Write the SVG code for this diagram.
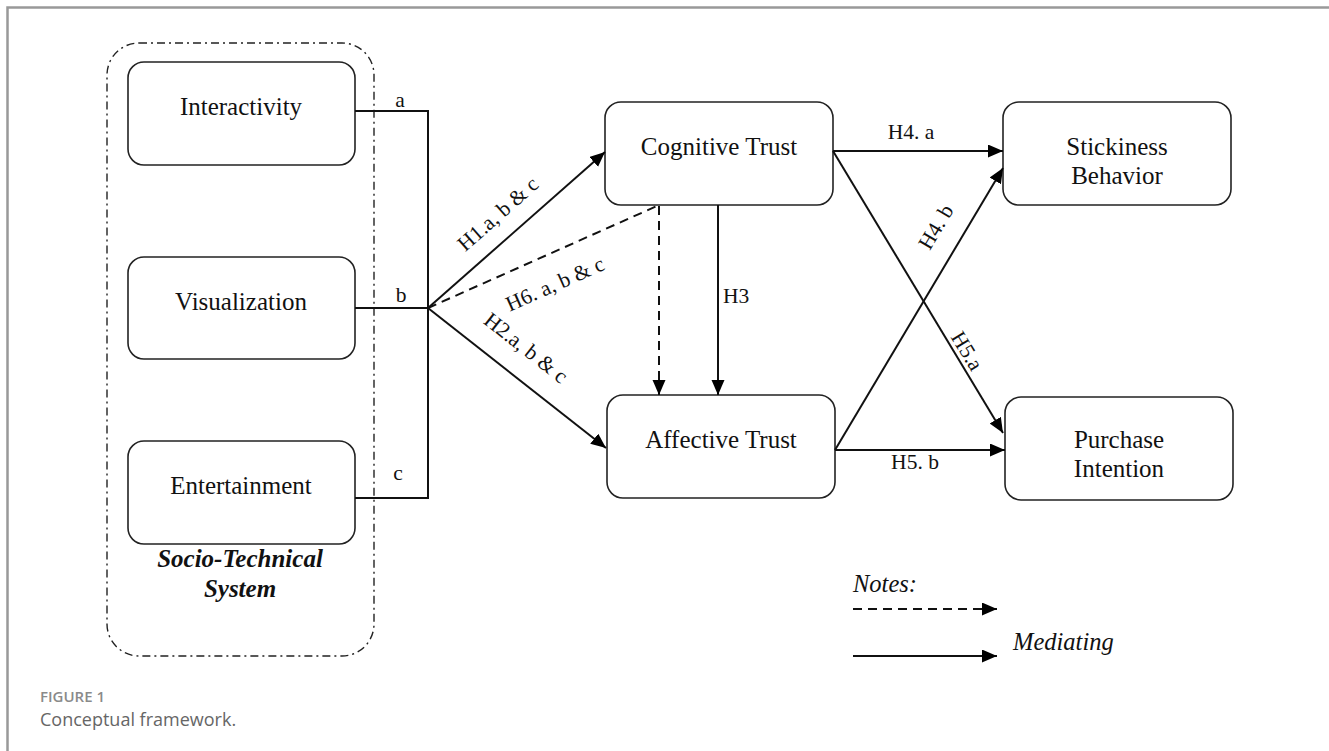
<svg xmlns="http://www.w3.org/2000/svg" width="1329" height="751" viewBox="0 0 1329 751">
<defs>
<marker id="ah" markerUnits="userSpaceOnUse" markerWidth="16" markerHeight="14" refX="15" refY="6.5" orient="auto">
<path d="M0,0 L15,6.5 L0,13 z" fill="#000"/>
</marker>
<style>
.box{fill:#fff;stroke:#222;stroke-width:1.6}
.t{font-family:"Liberation Serif","Times New Roman",serif;font-size:25px;fill:#111;text-anchor:middle}
.lb{font-family:"Liberation Serif","Times New Roman",serif;font-size:21.5px;fill:#111}
.lg{font-family:"Liberation Serif","Times New Roman",serif;font-size:24.5px;font-style:italic;fill:#111}
.c{stroke:#111;stroke-width:2;fill:none}
.d{stroke:#111;stroke-width:2;fill:none;stroke-dasharray:9 6}
</style>
</defs>
<rect width="1329" height="751" fill="#fff"/>
<path d="M1329,7.5 H7.5 V751" fill="none" stroke="#999" stroke-width="2.5"/>

<g id="socio-technical-system">
<rect x="107" y="43" width="267" height="613" rx="32" fill="none" stroke="#222" stroke-width="1.4" stroke-dasharray="8 4 2 4"/>
<text class="t" x="240" y="567" font-weight="bold" font-style="italic">Socio-Technical</text>
<text class="t" x="240" y="597" font-weight="bold" font-style="italic">System</text>
</g>

<g id="interactivity">
<rect class="box" x="128" y="62" width="227" height="103" rx="16"/>
<text class="t" x="241" y="115">Interactivity</text>
</g>
<g id="visualization">
<rect class="box" x="128" y="257" width="227" height="102" rx="16"/>
<text class="t" x="241" y="310">Visualization</text>
</g>
<g id="entertainment">
<rect class="box" x="128" y="441" width="227" height="103" rx="16"/>
<text class="t" x="241" y="494">Entertainment</text>
</g>

<g id="cognitive-trust">
<rect class="box" x="605" y="102" width="228" height="103" rx="16"/>
<text class="t" x="719" y="155">Cognitive Trust</text>
</g>
<g id="affective-trust">
<rect class="box" x="607" y="395" width="228" height="103" rx="16"/>
<text class="t" x="721" y="448">Affective Trust</text>
</g>
<g id="stickiness-behavior">
<rect class="box" x="1003" y="102" width="228" height="103" rx="16"/>
<text class="t" x="1117" y="155">Stickiness</text>
<text class="t" x="1117" y="184">Behavior</text>
</g>
<g id="purchase-intention">
<rect class="box" x="1005" y="397" width="228" height="103" rx="16"/>
<text class="t" x="1119" y="448">Purchase</text>
<text class="t" x="1119" y="477">Intention</text>
</g>

<g id="connectors">
<polyline class="c" points="355,111 428,111 428,498 355,498"/>
<line class="c" x1="355" y1="308" x2="428" y2="308"/>
<line class="c" x1="428" y1="308" x2="605" y2="152" marker-end="url(#ah)"/>
<line class="c" x1="428" y1="308" x2="606" y2="448" marker-end="url(#ah)"/>
<line class="d" x1="428" y1="308" x2="657" y2="206"/>
<line class="d" x1="659" y1="206" x2="659" y2="395" marker-end="url(#ah)"/>
<line class="c" x1="718" y1="205" x2="718" y2="395" marker-end="url(#ah)"/>
<line class="c" x1="833" y1="151" x2="1003" y2="151" marker-end="url(#ah)"/>
<line class="c" x1="833" y1="151" x2="1003" y2="433" marker-end="url(#ah)"/>
<line class="c" x1="835" y1="450" x2="1003" y2="168" marker-end="url(#ah)"/>
<line class="c" x1="835" y1="450" x2="1005" y2="450" marker-end="url(#ah)"/>
</g>

<g id="labels">
<text class="lb" x="400" y="107" text-anchor="middle">a</text>
<text class="lb" x="401" y="302" text-anchor="middle">b</text>
<text class="lb" x="398" y="480" text-anchor="middle">c</text>
<text class="lb" text-anchor="middle" transform="translate(498,214) rotate(-41.4)" y="7">H1.a, b &amp; c</text>
<text class="lb" text-anchor="middle" transform="translate(555,284) rotate(-24)" y="7">H6. a, b &amp; c</text>
<text class="lb" text-anchor="middle" transform="translate(526,348) rotate(38.2)" y="7">H2.a, b &amp; c</text>
<text class="lb" x="723" y="303">H3</text>
<text class="lb" x="911" y="139" text-anchor="middle">H4. a</text>
<text class="lb" x="915" y="469" text-anchor="middle">H5. b</text>
<text class="lb" text-anchor="middle" transform="translate(936,227) rotate(-59.2)" y="7">H4. b</text>
<text class="lb" text-anchor="middle" transform="translate(967,351) rotate(58.9)" y="7">H5.a</text>
</g>

<g id="legend">
<text class="lg" x="853" y="592">Notes:</text>
<line class="d" x1="853" y1="609" x2="997" y2="609" marker-end="url(#ah)"/>
<line class="c" x1="853" y1="656" x2="997" y2="656" marker-end="url(#ah)"/>
<text class="lg" x="1013" y="650">Mediating</text>
</g>

<g id="caption">
<text x="40" y="702" font-family="'Open Sans','Noto Sans',sans-serif" font-size="15" font-weight="600" fill="#8a8a8a">FIGURE 1</text>
<text x="40" y="726" font-family="'Open Sans','Noto Sans',sans-serif" font-size="18" fill="#666">Conceptual framework.</text>
</g>
</svg>
